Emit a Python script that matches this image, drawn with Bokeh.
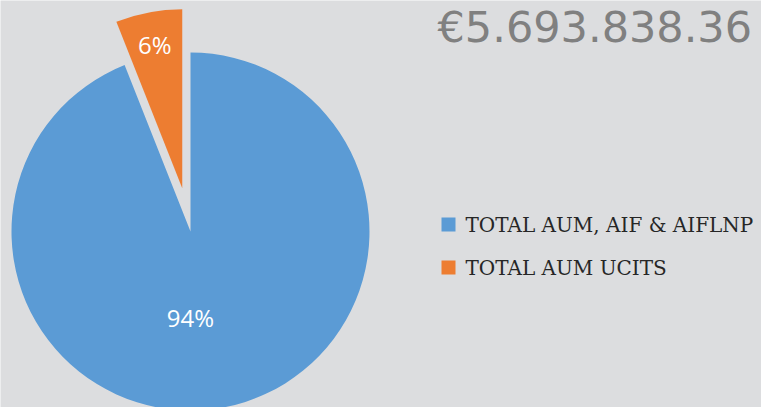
import numpy as np
from bokeh.plotting import figure
from bokeh.models import Range1d, ColumnDataSource
from bokeh.core.properties import value
from bokeh.embed import file_html
from bokeh.resources import INLINE

# ---- data ----
categories = ["TOTAL AUM, AIF & AIFLNP", "TOTAL AUM UCITS"]
shares = [94, 6]
colors = ["#5B9BD5", "#ED7D31"]
total_label = "€5.693.838.36"

# ---- layout (image pixel coords, y down) ----
W, H = 761, 407
BG = "#DCDDDF"
cx, cy, R = 190, 231, 179
explode = [0, 44]
label_frac = [0.48, 0.82]
label_angle_shift = [-10.8, 0]

def Y(y):
    return H - y

p = figure(width=W, height=H, output_backend="svg", toolbar_location=None,
           x_range=Range1d(0, W), y_range=Range1d(0, H),
           min_border=0)
p.axis.visible = False
p.grid.visible = False
p.outline_line_color = None
p.background_fill_color = BG
p.border_fill_color = BG

fr = np.array(shares, float) / sum(shares)
starts, ends = [0, 0], [0, 0]
starts[1] = 90.0
ends[1] = 90.0 + fr[1] * 360
starts[0] = ends[1]
ends[0] = 90.0 + 360
xs, ys, lx, ly, txt = [], [], [], [], []
for i in range(2):
    mid = np.deg2rad((starts[i] + ends[i]) / 2)
    ox = cx + explode[i] * np.cos(mid)
    oy = Y(cy) + explode[i] * np.sin(mid)
    xs.append(ox)
    ys.append(oy)
    lm = mid + np.deg2rad(label_angle_shift[i])
    lx.append(ox + label_frac[i] * R * np.cos(lm))
    ly.append(oy + label_frac[i] * R * np.sin(lm))
    txt.append(f"{shares[i]}%")

src = ColumnDataSource(dict(x=xs, y=ys, s=np.deg2rad(starts), e=np.deg2rad(ends),
                            c=colors, lx=lx, ly=ly, t=txt))
p.wedge(x="x", y="y", radius=R, start_angle="s", end_angle="e", fill_color="c",
        line_color=None, source=src)
p.text(x="lx", y="ly", text="t", source=src, text_color="white",
       text_font=value("Open Sans"), text_font_size="24px",
       text_align="center", text_baseline="middle")

# big total text
p.text(x=[437], y=[Y(1)], text=[total_label], text_color="#808080",
       text_font=value("DejaVu Sans"), text_font_size="43px",
       text_baseline="top")

# legend
leg_x, leg_y0, leg_dy = 448, 224, 43
lsrc = ColumnDataSource(dict(x=[leg_x, leg_x], y=[Y(leg_y0), Y(leg_y0 + leg_dy)],
                             tx=[leg_x + 17, leg_x + 17], c=colors, t=categories))
p.rect(x="x", y="y", width=14, height=14, fill_color="c", line_color=None, source=lsrc)
p.text(x="tx", y="y", text="t", source=lsrc, text_color="#262626",
       text_font=value("DejaVu Serif"), text_font_size="20px", text_baseline="middle")

open("out.html", "w").write(file_html(p, INLINE))
